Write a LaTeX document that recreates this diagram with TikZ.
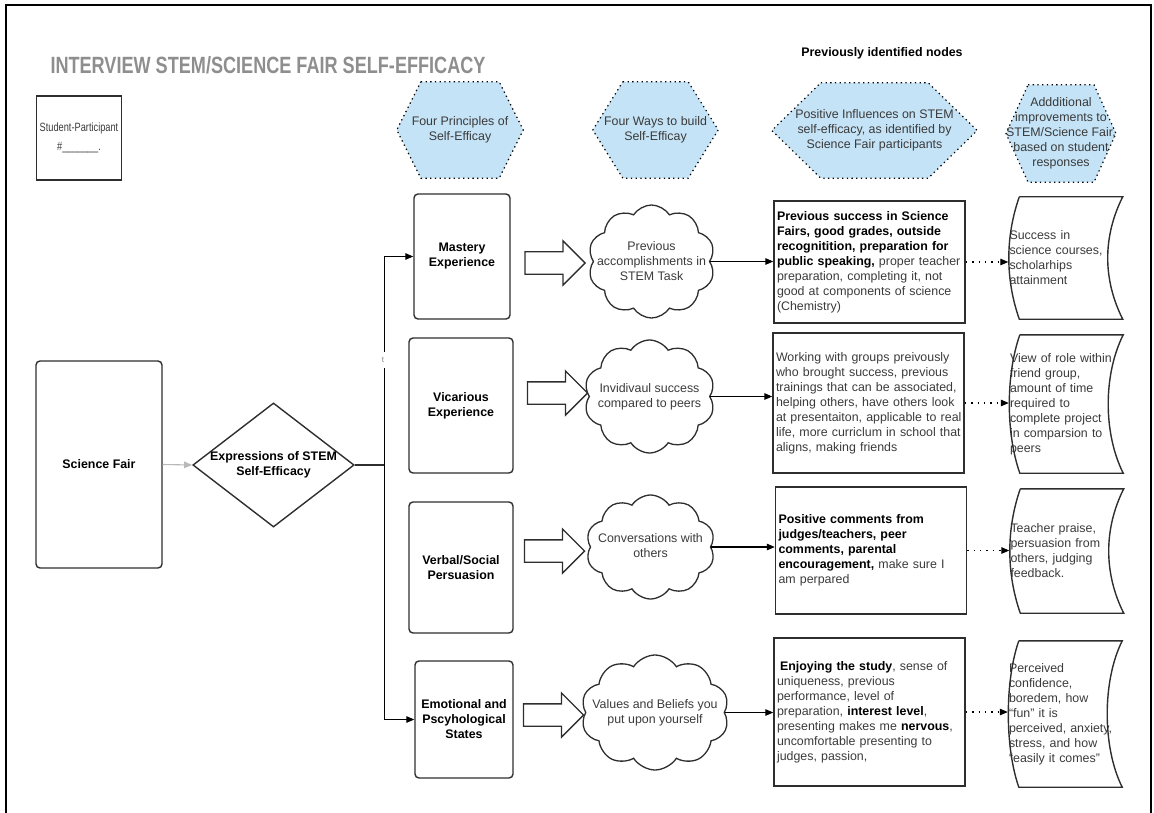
\documentclass[tikz,border=0pt]{standalone}
\usepackage{fontspec}
\setmainfont{Liberation Sans}
\newfontfamily\narrowfont[FakeStretch=0.77]{Liberation Sans}
\usetikzlibrary{arrows.meta, positioning, shapes.geometric, shapes.symbols, shapes.arrows, calc, backgrounds}
\definecolor{hexblue}{HTML}{C5E3F6}
\definecolor{titlegray}{HTML}{8E8E8E}
\definecolor{txtgray}{HTML}{3A3A3A}
\definecolor{linegray}{HTML}{2E2E2E}
\newcommand{\bodysize}{\fontsize{12.4}{15}\selectfont}
\newcommand{\boldtxt}[1]{{\bfseries\color{black}#1}}

\begin{document}
\begin{tikzpicture}[x=1pt, y=-1pt,
  hexa/.style={rectangle, inner sep=0pt, align=center,
    font=\bodysize, text=txtgray},
  hexline/.style={draw=black, fill=hexblue, line width=1.2pt,
    dash pattern=on 1.3pt off 3.4pt},
  prin/.style={rectangle, rounded corners=4pt, draw=linegray,
    line width=1.4pt, align=center, font=\bodysize\bfseries},
  blk/.style={single arrow, draw=linegray, line width=1.3pt,
    minimum height=60pt, minimum width=43pt,
    single arrow head extend=11pt, inner xsep=0pt, inner ysep=10.5pt},
  cloudy/.style={cloud, cloud puffs=10, cloud puff arc=115,
    draw=linegray, line width=1.3pt, inner sep=0pt},
  cloudtxt/.style={align=center, inner sep=0pt, font=\bodysize, text=txtgray},
  infl/.style={rectangle, draw=linegray, line width=1.4pt,
    text width=185pt, inner xsep=3pt, align=left,
    font=\bodysize, text=txtgray},
  impr/.style={rectangle, inner ysep=0pt, inner xsep=1pt,
    text width=112pt, align=left, font=\bodysize, text=txtgray},
  curvline/.style={draw=linegray, line width=1.4pt},
  ar/.style={-{Triangle[length=8pt, width=6.5pt]}, line width=1.1pt, draw=black},
  dotar/.style={ar, dash pattern=on 1.4pt off 5pt},
  tlab/.style={fill=white, inner sep=1pt, minimum height=16pt,
    font=\fontsize{8}{8}\selectfont, text=gray}
]
  \useasboundingbox (0,0) rectangle (1154,813);
  \draw[line width=2pt] (6,813) -- (6,5) -- (1151,5) -- (1151,813);

  \node[font=\narrowfont\fontsize{23.5}{26}\selectfont\bfseries, text=titlegray]
    (ttl) at (268,65) {INTERVIEW STEM/SCIENCE FAIR SELF-EFFICACY};
  \node[font=\bodysize\bfseries] (prev) at (882,53) {Previously identified nodes};

  \node[draw=linegray, line width=1.3pt, minimum width=84pt, minimum height=84pt,
    align=center, font=\narrowfont\fontsize{12}{19}\selectfont, text=txtgray]
    (stu) at (79,138) {Student-Participant\\\#\_\_\_\_\_\_\_.};

  % header hexagons
  \node[hexa, minimum width=126pt, minimum height=96pt] (h1) at (460,130)
    {Four Principles of\\Self-Efficay};
  \node[hexa, minimum width=125pt, minimum height=96pt] (h2) at (655.5,130)
    {Four Ways to build\\Self-Efficay};
  \node[hexa, minimum width=205pt, minimum height=95pt] (h3) at (874.5,130.5)
    {Positive Influences on STEM\\self-efficacy, as identified by\\Science Fair participants};
  \node[hexa, minimum width=108pt, minimum height=97pt] (h4) at (1061,133.5)
    {Addditional\\improvements to\\STEM/Science Fair,\\based on student\\responses};
  \begin{scope}[on background layer]
    \foreach \n/\d in {h1/24, h2/30, h3/49, h4/22}{
      \draw[hexline] ($(\n.north west)+(\d,0)$) -- ($(\n.north east)+(-\d,0)$)
        -- (\n.east) -- ($(\n.south east)+(-\d,0)$)
        -- ($(\n.south west)+(\d,0)$) -- (\n.west) -- cycle;
    }
  \end{scope}

  \node[prin, minimum width=126pt, minimum height=207pt] (sf) at (99,464.5) {Science Fair};
  \node[diamond, draw=linegray, line width=1.4pt, aspect=1.3,
    minimum width=161pt, minimum height=124pt, inner sep=0pt,
    align=center, font=\bodysize\bfseries] (expr) at (273.5,465)
    {Expressions of STEM\\Self-Efficacy};

  % four principles
  \node[prin, minimum width=96pt, minimum height=125pt] (m1) at (462,256.5)
    {Mastery\\Experience};
  \node[prin, minimum width=104pt, minimum height=135pt] (m2) at (461,405.5)
    {Vicarious\\Experience};
  \node[prin, minimum width=104pt, minimum height=131pt] (m3) at (461,567.5)
    {Verbal/Social\\Persuasion};
  \node[prin, minimum width=98pt, minimum height=117pt] (m4) at (464,719.5)
    {Emotional and\\Pscyhological\\States};

  \node[blk] (b1) at (549.5,263) {};
  \node[blk] (b2) at (552,393) {};
  \node[blk] (b3) at (549,551) {};
  \node[blk] (b4) at (548,715) {};

  \node[cloudy, minimum width=127pt, minimum height=113pt] (cl1) at (651.5,261.5) {};
  \node[cloudy, minimum width=131pt, minimum height=113pt] (cl2) at (649.5,396.5) {};
  \node[cloudy, minimum width=129pt, minimum height=104pt] (cl3) at (650.5,547) {};
  \node[cloudy, minimum width=148pt, minimum height=115pt] (cl4) at (655,712.5) {};
  \node[cloudtxt] (cl1t) at (cl1) {Previous\\accomplishments in\\STEM Task};
  \node[cloudtxt] (cl2t) at (cl2) {Invidivaul success\\compared to peers};
  \node[cloudtxt] (cl3t) at ($(cl3)+(0,-1)$) {Conversations with\\others};
  \node[cloudtxt] (cl4t) at (cl4) {Values and Beliefs you\\put upon yourself};

  \node[infl, minimum height=122pt] (t1) at (869.5,262)
    {\boldtxt{Previous success in Science}\\
     \boldtxt{Fairs, good grades, outside}\\
     \boldtxt{recognitition, preparation for}\\
     \boldtxt{public speaking,} proper teacher\\
     preparation, completing it, not\\
     good at components of science\\
     (Chemistry)};
  \node[infl, minimum height=140pt] (t2) at (868.5,403)
    {Working with groups preivously\\
     who brought success, previous\\
     \mbox{trainings that can be associated,}\\
     \mbox{helping others, have others look}\\
     \mbox{at presentaiton, applicable to real}\\
     \mbox{life, more curriclum in school that}\\
     aligns, making friends};
  \node[infl, minimum height=127pt] (t3) at (871,550.5)
    {\boldtxt{Positive comments from}\\
     \boldtxt{judges/teachers, peer}\\
     \boldtxt{comments, parental}\\
     \boldtxt{encouragement,} make sure I\\
     am perpared};
  \node[infl, minimum height=148pt] (t4) at (869.5,712)
    {\hspace{3pt}\boldtxt{Enjoying the study}, sense of\\
     uniqueness, previous\\
     performance, level of\\
     preparation, \boldtxt{interest level},\\
     \mbox{presenting makes me \boldtxt{nervous},}\\
     uncomfortable presenting to\\
     judges, passion,};

  \node[impr, minimum height=122pt] (c1) at (1065.5,258)
    {Success in\\science courses,\\scholarhips\\attainment};
  \node[impr, minimum height=138pt] (c2) at (1066,404)
    {View of role within\\friend group,\\amount of time\\required to\\complete project\\in comparsion to\\peers};
  \node[impr, minimum height=124pt] (c3) at (1066.5,551)
    {Teacher praise,\\persuasion from\\others, judging\\feedback.};
  \node[impr, minimum height=146pt] (c4) at (1065,714)
    {Perceived\\confidence,\\boredem, how\\``fun'' it is\\perceived, anxiety,\\stress, and how\\``easily it comes''};
  \foreach \n in {c1,c2,c3,c4}{
    \draw[curvline] ($(\n.north west)+(11,0)$) -- (\n.north east)
      .. controls ($(\n.north east)+(-20,40)$) and ($(\n.south east)+(-20,-40)$) .. (\n.south east)
      -- ($(\n.south west)+(11,0)$)
      .. controls ($(\n.south west)+(-3,-40)$) and ($(\n.north west)+(-3,40)$) .. ($(\n.north west)+(11,0)$);
  }

  % connectors
  \coordinate (jn) at ($(expr.east)+(30,0)$);
  \draw[ar, draw=gray!55] (sf.east) -- (expr.west);
  \draw[line width=1.3pt, draw=linegray] (expr.east) -- (jn);
  \draw[ar] (jn) |- (m1.west);
  \draw[ar] (jn) |- (m4.west);
  \node[tlab] (tk) at (383,360) {t};

  \foreach \i in {1,...,4}{
    \draw[ar] (cl\i.east) -- (cl\i.east -| t\i.west);
    \draw[dotar] (t\i.east) -- (t\i.east -| c\i.west);
  }
\end{tikzpicture}
\end{document}
